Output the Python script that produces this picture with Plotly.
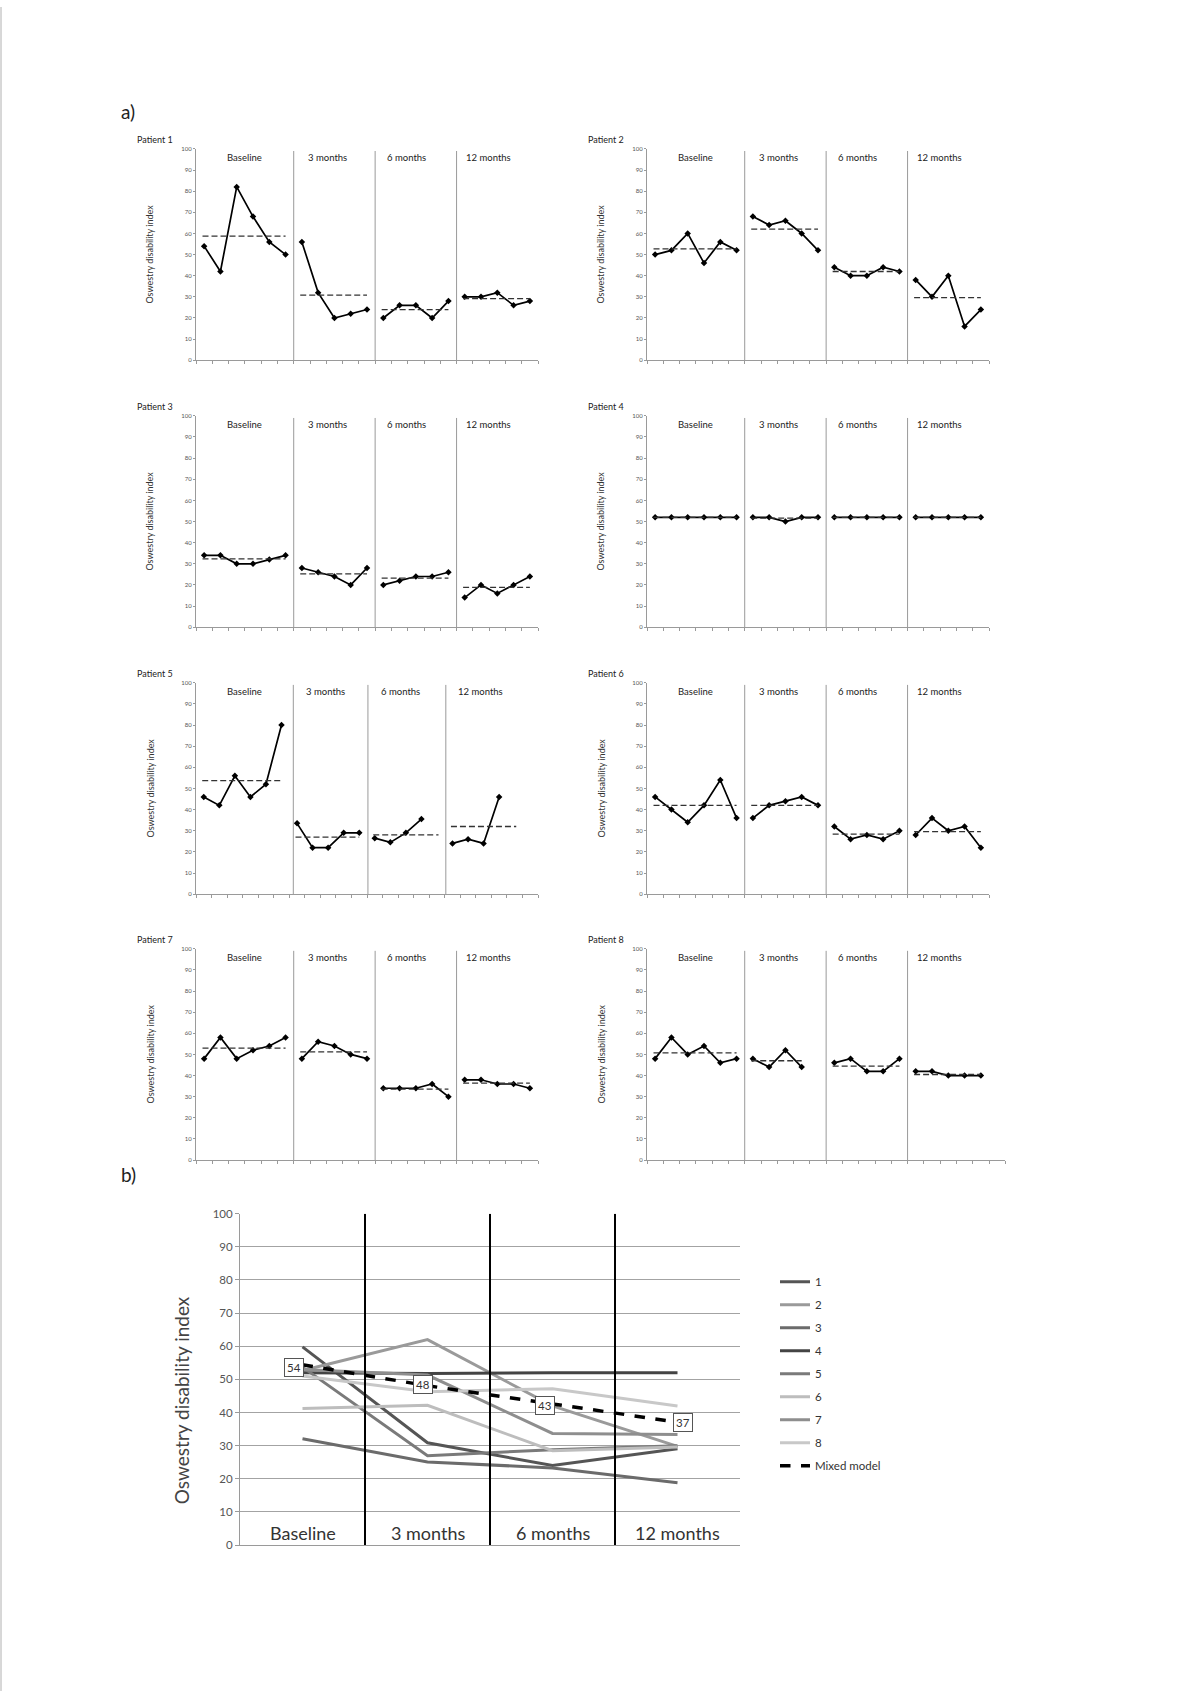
import plotly.graph_objects as go

W, H = 1200, 1697
FONT = "Lato"

# ---------------- data ----------------
timepoints = ["Baseline", "3 months", "6 months", "12 months"]
patient_names = ["Patient 1", "Patient 2", "Patient 3", "Patient 4",
                 "Patient 5", "Patient 6", "Patient 7", "Patient 8"]

p1_base = [54, 42, 82, 68, 56, 50]
p1_3m = [56, 32, 20, 22, 24]
p1_6m = [20, 26, 26, 20, 28]
p1_12m = [30, 30, 32, 26, 28]
p1_mean = [58.7, 30.8, 24.0, 29.2]

p2_base = [50, 52, 60, 46, 56, 52]
p2_3m = [68, 64, 66, 60, 52]
p2_6m = [44, 40, 40, 44, 42]
p2_12m = [38, 30, 40, 16, 24]
p2_mean = [52.7, 62.0, 42.0, 29.6]

p3_base = [34, 34, 30, 30, 32, 34]
p3_3m = [28, 26, 24, 20, 28]
p3_6m = [20, 22, 24, 24, 26]
p3_12m = [14, 20, 16, 20, 24]
p3_mean = [32.3, 25.2, 23.2, 18.8]

p4_base = [52, 52, 52, 52, 52, 52]
p4_3m = [52, 52, 50, 52, 52]
p4_6m = [52, 52, 52, 52, 52]
p4_12m = [52, 52, 52, 52, 52]
p4_mean = [52.0, 51.6, 52.0, 52.0]

p5_base = [46, 42, 56, 46, 52, 80]
p5_3m = [33.5, 22, 22, 29, 29]
p5_6m = [26.5, 24.5, 29, 35.5]
p5_12m = [24, 26, 24, 46]
p5_mean = [53.7, 27.0, 28.0, 32.0]

p6_base = [46, 40, 34, 42, 54, 36]
p6_3m = [36, 42, 44, 46, 42]
p6_6m = [32, 26, 28, 26, 30]
p6_12m = [28, 36, 30, 32, 22]
p6_mean = [42.0, 42.0, 28.4, 29.6]

p7_base = [48, 58, 48, 52, 54, 58]
p7_3m = [48, 56, 54, 50, 48]
p7_6m = [34, 34, 34, 36, 30]
p7_12m = [38, 38, 36, 36, 34]
p7_mean = [53.0, 51.2, 33.6, 36.4]

p8_base = [48, 58, 50, 54, 46, 48]
p8_3m = [48, 44, 52, 44]
p8_6m = [46, 48, 42, 42, 48]
p8_12m = [42, 42, 40, 40, 40]
p8_mean = [50.7, 47.0, 44.5, 40.5]

patients = [
    [p1_base, p1_3m, p1_6m, p1_12m],
    [p2_base, p2_3m, p2_6m, p2_12m],
    [p3_base, p3_3m, p3_6m, p3_12m],
    [p4_base, p4_3m, p4_6m, p4_12m],
    [p5_base, p5_3m, p5_6m, p5_12m],
    [p6_base, p6_3m, p6_6m, p6_12m],
    [p7_base, p7_3m, p7_6m, p7_12m],
    [p8_base, p8_3m, p8_6m, p8_12m],
]
means = [p1_mean, p2_mean, p3_mean, p4_mean, p5_mean, p6_mean, p7_mean, p8_mean]

# panel b
b_labels = ["1", "2", "3", "4", "5", "6", "7", "8"]
b_p1 = [59.8, 30.9, 24.0, 29.1]
b_p2 = [52.7, 62.0, 42.0, 29.8]
b_p3 = [32.1, 25.1, 23.3, 18.8]
b_p4 = [52.0, 51.8, 52.0, 52.0]
b_p5 = [53.7, 27.0, 28.8, 30.0]
b_p6 = [41.2, 42.2, 28.5, 29.6]
b_p7 = [53.0, 51.3, 33.7, 33.4]
b_p8 = [51.0, 46.3, 47.2, 42.0]
b_series = [b_p1, b_p2, b_p3, b_p4, b_p5, b_p6, b_p7, b_p8]
b_mixed = [54.4, 48.1, 42.6, 37.1]
b_mixed_labels = ["54", "48", "43", "37"]

# ---------------- styling / layout config ----------------
section_start = [0, 6, 11, 16]
n_cats = [21, 21, 21, 21, 22, 21, 21, 22]
dividers = {4: [5.76, 10.56, 15.57]}
default_dividers = [5.5, 10.5, 15.5]
mean_end = {4: [5, 10, 15.1, 20.1], 7: [5, 9, 15, 20]}
header_x = {4: [2.6, 7.8, 12.65, 17.8]}
default_header_x = [2.45, 7.55, 12.4, 17.45]
b_colors = ["#555555", "#9a9a9a", "#6b6b6b", "#444444",
            "#7a7a7a", "#bdbdbd", "#8e8e8e", "#c8c8c8"]

col_left = [196, 647]
spacing = 342 / 21.0
row_top = [143, 412, 681, 949]
panel_h = 213


def px_x(p):
    return p / W


def px_y(p):
    return 1 - p / H


fig = go.Figure()
shapes = []
annotations = []

for i in range(8):
    ax = i + 1
    xn = "x" if ax == 1 else f"x{ax}"
    yn = "y" if ax == 1 else f"y{ax}"
    col, row = i % 2, i // 2
    left = col_left[col]
    n = n_cats[i]
    width = 342 if i != 7 else n * spacing
    top = row_top[row]
    bottom = top + panel_h

    fig.update_layout(**{
        f"xaxis{ax}": dict(
            domain=[px_x(left), px_x(left + width)], anchor=yn,
            range=[-0.5, n - 0.5], showgrid=False, zeroline=False,
            showline=True, linecolor="#9a9a9a", linewidth=1,
            ticks="outside", ticklen=3, tickcolor="#9a9a9a",
            tickvals=[k - 0.5 for k in range(n + 1)], showticklabels=False,
            fixedrange=True),
        f"yaxis{ax}": dict(
            domain=[px_y(bottom), px_y(top)], anchor=xn,
            range=[0, 100], tickvals=list(range(0, 101, 10)),
            showgrid=False, zeroline=False, showline=True,
            linecolor="#9a9a9a", linewidth=1, ticks="outside", ticklen=2,
            tickcolor="#9a9a9a", tickfont=dict(size=6, color="#555", family=FONT),
            fixedrange=True),
    })

    segs = patients[i]
    ends = mean_end.get(i, [section_start[k] + len(segs[k]) - 1 for k in range(4)])
    for k in range(4):
        xs = [section_start[k] + j for j in range(len(segs[k]))]
        fig.add_trace(go.Scatter(
            x=xs, y=segs[k], xaxis=xn, yaxis=yn, mode="lines+markers",
            line=dict(color="black", width=1.7),
            marker=dict(symbol="diamond", size=5, color="black"),
            showlegend=False, hoverinfo="skip"))
        fig.add_trace(go.Scatter(
            x=[section_start[k] - 0.1, ends[k]], y=[means[i][k], means[i][k]],
            xaxis=xn, yaxis=yn, mode="lines",
            line=dict(color="#333333", width=1.3, dash="6px,3px"),
            showlegend=False, hoverinfo="skip"))

    for d in dividers.get(i, default_dividers):
        shapes.append(dict(type="line", xref=xn, yref=yn, x0=d, x1=d,
                           y0=-0.6, y1=99, line=dict(color="#9a9a9a", width=1)))

    hx = header_x.get(i, default_header_x)
    for k in range(4):
        annotations.append(dict(xref=xn, yref=yn, x=hx[k], y=96, text=timepoints[k],
                                xanchor="center", yanchor="middle",
                                showarrow=False, font=dict(size=9.5, color="#222", family=FONT)))

    annotations.append(dict(xref="paper", yref="paper", x=px_x(left - 41), y=px_y(top - 9),
                            xanchor="center", yanchor="middle",
                            text=patient_names[i], showarrow=False,
                            font=dict(size=9, color="#222", family=FONT)))
    annotations.append(dict(xref="paper", yref="paper", x=px_x(left - 46),
                            y=px_y((top + bottom) / 2), text="Oswestry disability index",
                            xanchor="center", yanchor="middle",
                            textangle=-90, showarrow=False,
                            font=dict(size=9, color="#333", family=FONT)))

# ---------------- panel b ----------------
b_left, b_right = 240, 740
b_top, b_bottom = 1216, 1550
fig.update_layout(
    xaxis9=dict(domain=[px_x(b_left), px_x(b_right)], anchor="y9",
                range=[-0.5, 3.5], showgrid=False, zeroline=False,
                showline=True, linecolor="#9a9a9a", showticklabels=False,
                ticks="", fixedrange=True),
    yaxis9=dict(domain=[px_y(b_bottom), px_y(b_top)], anchor="x9",
                range=[0, 100], dtick=10, showgrid=True, gridcolor="#a3a3a3",
                gridwidth=1, zeroline=False, showline=True, linecolor="#9a9a9a",
                ticks="outside", ticklen=4, tickcolor="#9a9a9a",
                tickfont=dict(size=11.5, color="#555", family=FONT),
                fixedrange=True),
)

for j in range(8):
    fig.add_trace(go.Scatter(
        x=list(range(4)), y=b_series[j], xaxis="x9", yaxis="y9", mode="lines",
        line=dict(color=b_colors[j], width=3), name=b_labels[j],
        legendgroup=b_labels[j], hoverinfo="skip"))

fig.add_trace(go.Scatter(
    x=list(range(4)), y=b_mixed, xaxis="x9", yaxis="y9", mode="lines",
    line=dict(color="black", width=3.5, dash="dash"), name="Mixed model",
    legendgroup="mm", hoverinfo="skip"))

for d in [0.5, 1.5, 2.5]:
    shapes.append(dict(type="line", xref="x9", yref="y9", x0=d, x1=d, y0=0, y1=100,
                       line=dict(color="black", width=2)))

for k in range(4):
    annotations.append(dict(xref="x9", yref="y9", x=k, y=3.6, text=timepoints[k],
                            xanchor="center", yanchor="middle",
                            showarrow=False, font=dict(size=18, color="#333", family=FONT)))

label_dx = [-0.07, -0.04, -0.06, 0.04]
label_dy = [-0.7, 0.4, -0.4, 0.0]
for k in range(4):
    annotations.append(dict(xref="x9", yref="y9", x=k + label_dx[k], y=b_mixed[k] + label_dy[k],
                            text=b_mixed_labels[k], showarrow=False,
                            xanchor="center", yanchor="middle",
                            bgcolor="white", bordercolor="#555", borderwidth=1, borderpad=2,
                            font=dict(size=11.5, color="#333", family=FONT)))

annotations.append(dict(xref="paper", yref="paper", x=px_x(181), y=px_y(1404),
                        xanchor="center", yanchor="middle",
                        text="Oswestry disability index", textangle=-90, showarrow=False,
                        font=dict(size=19, color="#444", family=FONT)))

annotations.append(dict(xref="paper", yref="paper", x=px_x(128), y=px_y(105),
                        xanchor="center", yanchor="middle",
                        text="a)", showarrow=False, font=dict(size=19, color="#222", family=FONT)))
annotations.append(dict(xref="paper", yref="paper", x=px_x(128), y=px_y(1177),
                        xanchor="center", yanchor="middle",
                        text="b)", showarrow=False, font=dict(size=19, color="#222", family=FONT)))

# page border on the left
shapes.append(dict(type="line", xref="paper", yref="paper", x0=px_x(1), x1=px_x(1), y0=0, y1=1,
                   line=dict(color="#b0b0b0", width=1)))

fig.update_layout(
    width=W, height=H, margin=dict(l=0, r=0, t=0, b=0),
    paper_bgcolor="white", plot_bgcolor="white",
    shapes=shapes, annotations=annotations,
    font=dict(family=FONT, color="#333"),
    legend=dict(x=px_x(775), y=px_y(1270), xanchor="left", yanchor="top",
                traceorder="grouped", tracegroupgap=4,
                font=dict(size=11.5, color="#333", family=FONT),
                bgcolor="rgba(0,0,0,0)", itemwidth=30),
)

fig.write_html("out.html", config={"displayModeBar": False},
               post_script="document.body.style.margin='0';")
